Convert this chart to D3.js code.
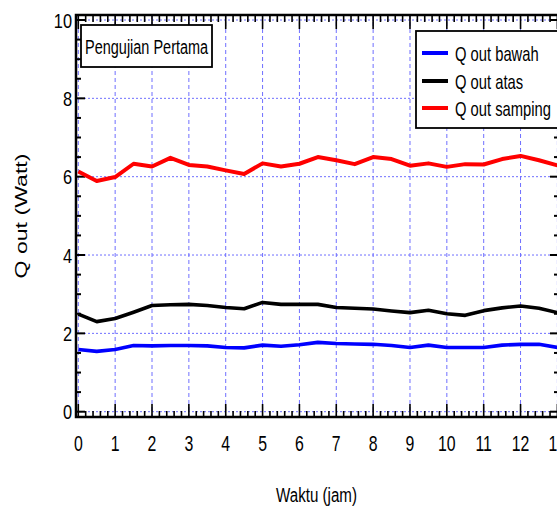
<!DOCTYPE html>
<html>
<head>
<meta charset="utf-8">
<script src="https://cdn.jsdelivr.net/npm/d3@7"></script>
<style>
  html, body { margin: 0; padding: 0; background: #fff; }
  svg { display: block; }
  text { font-family: "Liberation Sans", Arial, sans-serif; fill: #000; }
</style>
</head>
<body>
<svg id="chart" width="557" height="506"></svg>
<script>
// ---- data ----
const hours = [0,0.5,1,1.5,2,2.5,3,3.5,4,4.5,5,5.5,6,6.5,7,7.5,8,8.5,9,9.5,10,10.5,11,11.5,12,12.5,13];
const qBawah = [1.59,1.54,1.59,1.69,1.68,1.69,1.69,1.68,1.64,1.63,1.70,1.67,1.71,1.77,1.74,1.73,1.72,1.69,1.64,1.70,1.64,1.64,1.64,1.70,1.72,1.72,1.64];
const qAtas = [2.49,2.30,2.38,2.54,2.71,2.73,2.74,2.71,2.66,2.63,2.79,2.74,2.74,2.74,2.66,2.64,2.62,2.57,2.53,2.59,2.50,2.46,2.58,2.65,2.70,2.64,2.53];
const qSamping = [6.13,5.89,5.99,6.33,6.26,6.48,6.30,6.26,6.16,6.07,6.34,6.26,6.33,6.50,6.42,6.32,6.50,6.45,6.28,6.34,6.25,6.32,6.31,6.45,6.53,6.42,6.29];
const seriesNames = ["Q out bawah", "Q out atas", "Q out samping"];
const seriesColors = ["#0000ff", "#000000", "#ff0000"];
const xTicks = [0,1,2,3,4,5,6,7,8,9,10,11,12,13];
const yTicks = [0,2,4,6,8,10];
const titleText = "Pengujian Pertama";
const xTitle = "Waktu (jam)";
const yTitle = "Q out (Watt)";

const svg = d3.select("#chart");
const x = d3.scaleLinear().domain([0, 13]).range([78.3, 557.4]);
const y = d3.scaleLinear().domain([0, 10]).range([411.7, 20]);
const frame = {left: 76, right: 559, top: 15, bottom: 417};
const gridColor = "#6f6fff";

// grid
svg.append("g").selectAll("line").data(xTicks).join("line")
  .attr("x1", d => x(d)).attr("x2", d => x(d))
  .attr("y1", frame.top).attr("y2", frame.bottom)
  .attr("stroke", gridColor).attr("stroke-width", 1).attr("stroke-dasharray", "4,3");
svg.append("g").selectAll("line").data(yTicks).join("line")
  .attr("x1", frame.left).attr("x2", frame.right)
  .attr("y1", d => y(d)).attr("y2", d => y(d))
  .attr("stroke", gridColor).attr("stroke-width", 1).attr("stroke-dasharray", "2,2");

// minor/major ticks via d3 ranges
const xMinor = d3.range(0, 13.0001, 0.2).filter(v => Math.abs(v - Math.round(v)) > 1e-6);
const yMinor = d3.range(0, 10.0001, 0.5).filter(v => !yTicks.some(t => Math.abs(t - v) < 1e-6));
const tk = svg.append("g").attr("stroke", "#000").attr("stroke-width", 1.6);
// bottom
tk.selectAll(null).data(xTicks).join("line")
  .attr("x1", d => x(d)).attr("x2", d => x(d)).attr("y1", frame.bottom).attr("y2", frame.bottom - 13);
tk.selectAll(null).data(xMinor).join("line")
  .attr("x1", d => x(d)).attr("x2", d => x(d)).attr("y1", frame.bottom).attr("y2", frame.bottom - 6);
// top
tk.selectAll(null).data(xTicks).join("line")
  .attr("x1", d => x(d)).attr("x2", d => x(d)).attr("y1", frame.top).attr("y2", frame.top + 14);
tk.selectAll(null).data(xMinor).join("line")
  .attr("x1", d => x(d)).attr("x2", d => x(d)).attr("y1", frame.top).attr("y2", frame.top + 7);
// left
tk.selectAll(null).data(yTicks).join("line")
  .attr("x1", frame.left).attr("x2", frame.left + 9).attr("y1", d => y(d)).attr("y2", d => y(d)).attr("stroke-width", 2);
tk.selectAll(null).data(yMinor).join("line")
  .attr("x1", frame.left).attr("x2", frame.left + 5).attr("y1", d => y(d)).attr("y2", d => y(d)).attr("stroke-width", 2);
// right
tk.selectAll(null).data(yTicks).join("line")
  .attr("x1", frame.right).attr("x2", frame.right - 9).attr("y1", d => y(d)).attr("y2", d => y(d)).attr("stroke-width", 2);
tk.selectAll(null).data(yMinor).join("line")
  .attr("x1", frame.right).attr("x2", frame.right - 5).attr("y1", d => y(d)).attr("y2", d => y(d)).attr("stroke-width", 2);

// frame
svg.append("rect").attr("x", frame.left).attr("y", frame.top)
  .attr("width", frame.right - frame.left).attr("height", frame.bottom - frame.top)
  .attr("fill", "none").attr("stroke", "#000").attr("stroke-width", 2.5);

// tick labels
svg.append("g").selectAll("text").data(xTicks).join("text")
  .attr("transform", d => `translate(${x(d)},451) scale(0.72,1)`)
  .attr("text-anchor", "middle").attr("font-size", 22).text(d => d);
svg.append("g").selectAll("text").data(yTicks).join("text")
  .attr("transform", d => `translate(72,${y(d) + 7.5}) scale(0.78,1)`)
  .attr("text-anchor", "end").attr("font-size", 21).text(d => d);

// lines
const allSeries = [qBawah, qAtas, qSamping];
const line = d3.line().x((d, i) => x(hours[i])).y(d => y(d));
allSeries.forEach((vals, i) => {
  svg.append("path").datum(vals).attr("d", line)
    .attr("fill", "none").attr("stroke", seriesColors[i])
    .attr("stroke-width", i === 2 ? 4 : 3.6).attr("stroke-linejoin", "round");
});

// title box
const tb = svg.append("g");
tb.append("rect").attr("x", 81).attr("y", 25).attr("width", 131).attr("height", 42)
  .attr("fill", "#fff").attr("stroke", "#000").attr("stroke-width", 1.8);
tb.append("text").attr("transform", "translate(85,54) scale(0.69,1)")
  .attr("font-size", 21).text(titleText);

// legend
const lg = svg.append("g");
lg.append("rect").attr("x", 416).attr("y", 31).attr("width", 142).attr("height", 97)
  .attr("fill", "#fff").attr("stroke", "#000").attr("stroke-width", 1.8);
const rows = [53, 81, 108];
seriesNames.forEach((n, i) => {
  lg.append("line").attr("x1", 422).attr("x2", 448).attr("y1", rows[i]).attr("y2", rows[i])
    .attr("stroke", seriesColors[i]).attr("stroke-width", 4);
  lg.append("text").attr("transform", `translate(455,${rows[i] + 7.5}) scale(0.72,1)`)
    .attr("font-size", 20.5).text(n);
});

// axis titles
svg.append("text").attr("transform", "translate(316.5,502) scale(0.72,1)")
  .attr("text-anchor", "middle").attr("font-size", 21).text(xTitle);
svg.append("text").attr("transform", "translate(27,216) rotate(-90) scale(1.4,1)")
  .attr("text-anchor", "middle").attr("font-size", 16.5).text(yTitle);
</script>
</body>
</html>
